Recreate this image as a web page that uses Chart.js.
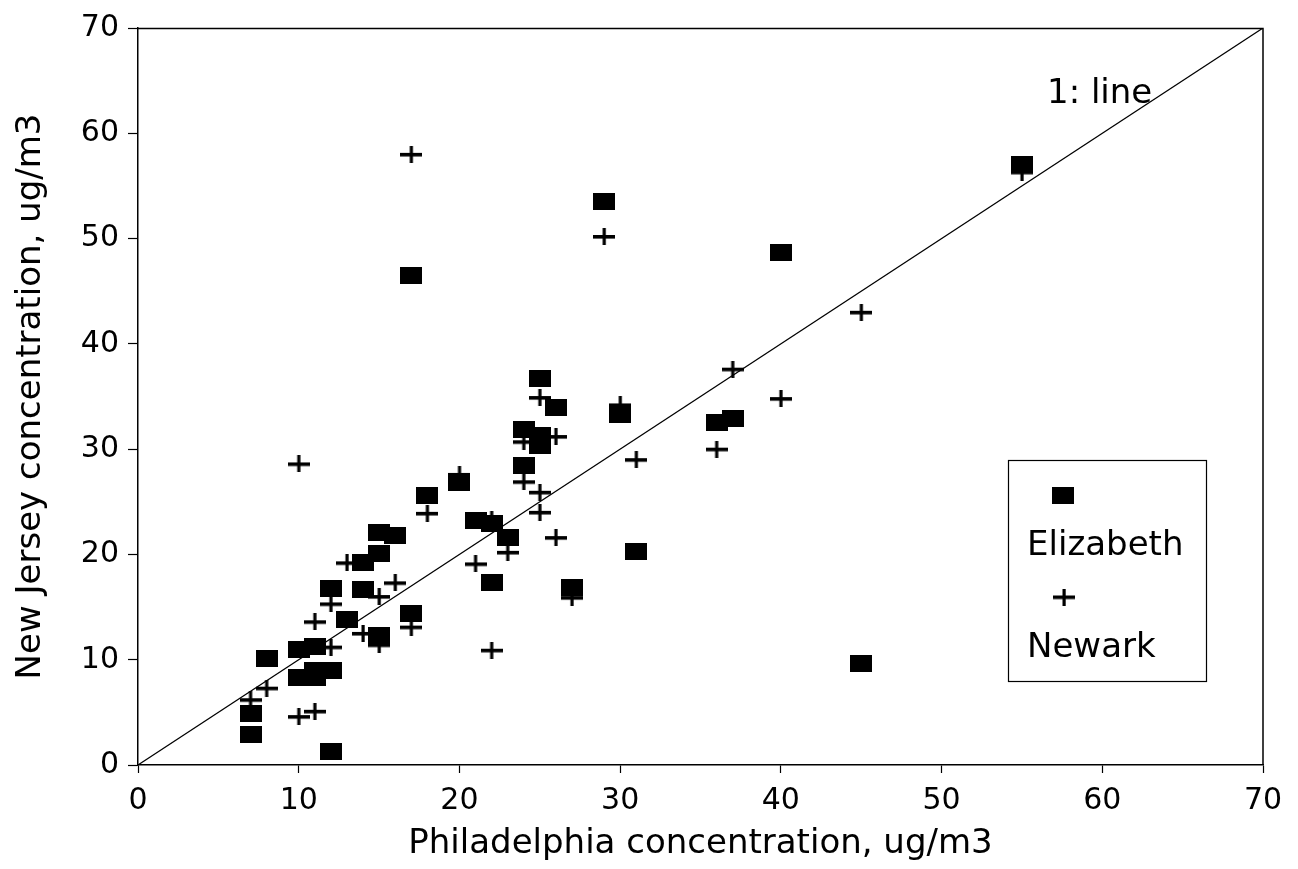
<!DOCTYPE html>
<html>
<head>
<meta charset="utf-8">
<script src="https://cdn.jsdelivr.net/npm/chart.js@4/dist/chart.umd.min.js"></script>
<style>
  html, body { margin: 0; padding: 0; background: #fff; }
  #wrap { width: 1298px; height: 869px; }
</style>
</head>
<body>
<div id="wrap"><canvas id="c" width="1298" height="869"></canvas></div>
<script>
// ---- data ----
const seriesNames = ["Elizabeth", "Newark"];
const xTitle = "Philadelphia concentration, ug/m3";
const yTitle = "New Jersey concentration, ug/m3";
const lineLabel = "1: line";
const axisTicks = [0, 10, 20, 30, 40, 50, 60, 70];

const elizabethX = [55, 29, 40, 17, 25, 26, 30, 37, 36, 24, 25, 25, 24, 20, 18, 21, 22, 23, 15, 16, 15, 14, 31, 22, 27, 12, 14, 17, 13, 15, 11, 10, 8, 45, 10, 11, 11, 12, 7, 7, 12];
const elizabethY = [57, 53.5, 48.7, 46.5, 36.7, 34, 33.3, 32.9, 32.5, 31.9, 31.3, 30.3, 28.4, 26.8, 25.6, 23.2, 22.9, 21.6, 22.1, 21.8, 20.1, 19.2, 20.3, 17.3, 16.9, 16.8, 16.7, 14.4, 13.8, 12.3, 11.3, 11, 10.1, 9.6, 8.3, 8.3, 9, 9, 4.9, 2.9, 1.3];

const newarkX = [17, 29, 45, 55, 37, 40, 25, 30, 26, 24, 36, 31, 10, 20, 24, 25, 25, 18, 22, 26, 23, 21, 13, 16, 27, 12, 15, 14, 15, 17, 11, 12, 22, 8, 7, 10, 11];
const newarkY = [58, 50.2, 43, 56.3, 37.6, 34.8, 34.9, 34.2, 31.2, 30.7, 30, 29, 28.6, 27.6, 26.9, 25.9, 24, 23.9, 23.3, 21.6, 20.2, 19.1, 19.2, 17.3, 15.9, 15.3, 16, 12.5, 11.4, 13.1, 13.6, 11.2, 10.9, 7.3, 6.2, 4.6, 5.1];

const lineX = [0, 70];
const lineY = [0, 70];

// ---- marker images (the scan's markers are slightly wider than tall) ----
function squareMarker() {
  const c = document.createElement('canvas');
  c.width = 22; c.height = 17;
  const g = c.getContext('2d');
  g.fillStyle = '#000';
  g.fillRect(0, 0, 22, 17);
  return c;
}
function plusMarker() {
  const c = document.createElement('canvas');
  c.width = 22; c.height = 17;
  const g = c.getContext('2d');
  g.fillStyle = '#000';
  g.fillRect(0, 7, 22, 3.6);
  g.fillRect(9.5, 0, 3.2, 17);
  return c;
}
const sqImg = squareMarker();
const plImg = plusMarker();

const toPts = (xs, ys) => xs.map((x, i) => ({ x: x, y: ys[i] }));

const FONT = "'DejaVu Sans', 'Liberation Sans', Arial, sans-serif";

const framePlugin = {
  id: 'frameAndLegend',
  afterDraw(chart) {
    const ctx = chart.ctx;
    const a = chart.chartArea;
    ctx.save();
    // top and right frame lines
    ctx.strokeStyle = '#000';
    ctx.lineWidth = 1.5;
    ctx.beginPath();
    ctx.moveTo(a.left, a.top + 0.5);
    ctx.lineTo(a.right, a.top + 0.5);
    ctx.lineTo(a.right, a.bottom);
    ctx.stroke();

    // "1: line" annotation
    ctx.fillStyle = '#000';
    ctx.font = "34px " + FONT;
    ctx.textAlign = 'left';
    ctx.textBaseline = 'alphabetic';
    ctx.fillText(lineLabel, 1047, 103);

    // legend box
    ctx.lineWidth = 1.2;
    ctx.strokeRect(1008.5, 460.5, 198, 221);
    ctx.drawImage(sqImg, 1063 - sqImg.width / 2, 495 - sqImg.height / 2);
    ctx.fillText(chart.data.datasets[0].label, 1027, 555);
    ctx.drawImage(plImg, 1064 - plImg.width / 2, 597 - plImg.height / 2);
    ctx.fillText(chart.data.datasets[1].label, 1027, 657);
    ctx.restore();
  }
};

new Chart(document.getElementById('c'), {
  type: 'scatter',
  data: {
    datasets: [
      {
        label: seriesNames[0],
        data: toPts(elizabethX, elizabethY),
        pointStyle: sqImg,
        pointRadius: 10,
        pointHoverRadius: 10,
        showLine: false,
        backgroundColor: '#000',
        borderColor: '#000',
        order: 2
      },
      {
        label: seriesNames[1],
        data: toPts(newarkX, newarkY),
        pointStyle: plImg,
        pointRadius: 10,
        pointHoverRadius: 10,
        showLine: false,
        backgroundColor: '#000',
        borderColor: '#000',
        order: 1
      },
      {
        label: lineLabel,
        type: 'line',
        data: toPts(lineX, lineY),
        borderColor: '#000',
        borderWidth: 1.2,
        pointRadius: 0,
        fill: false,
        order: 3
      }
    ]
  },
  options: {
    responsive: false,
    animation: false,
    devicePixelRatio: 1,
    layout: { padding: { top: 28, right: 35, left: 0, bottom: 0 } },
    plugins: {
      legend: { display: false },
      tooltip: { enabled: false },
      title: { display: false }
    },
    scales: {
      x: {
        type: 'linear',
        min: 0, max: 70,
        afterFit(s) { s.height = 104; },
        afterBuildTicks(s) { s.ticks = axisTicks.map(v => ({ value: v })); },
        border: { display: true, color: '#000', width: 1.5 },
        grid: { display: true, drawOnChartArea: false, drawTicks: true, tickLength: 8, color: '#000', tickColor: '#000', tickWidth: 1.2 },
        ticks: { color: '#000', font: { family: FONT, size: 30 }, padding: 10, maxRotation: 0 },
        title: { display: true, text: xTitle, color: '#000', font: { family: FONT, size: 34, lineHeight: 1.2 }, padding: { top: 0, bottom: 4 } }
      },
      y: {
        type: 'linear',
        min: 0, max: 70,
        afterFit(s) { s.width = 138; },
        afterBuildTicks(s) { s.ticks = axisTicks.map(v => ({ value: v })); },
        border: { display: true, color: '#000', width: 1.5 },
        grid: { display: true, drawOnChartArea: false, drawTicks: true, tickLength: 10, color: '#000', tickColor: '#000', tickWidth: 1.2 },
        ticks: { color: '#000', font: { family: FONT, size: 30 }, padding: 9 },
        title: { display: true, text: yTitle, color: '#000', font: { family: FONT, size: 34, lineHeight: 1.2 }, padding: { top: 11, bottom: 0 } }
      }
    }
  },
  plugins: [framePlugin]
});
</script>
</body>
</html>
